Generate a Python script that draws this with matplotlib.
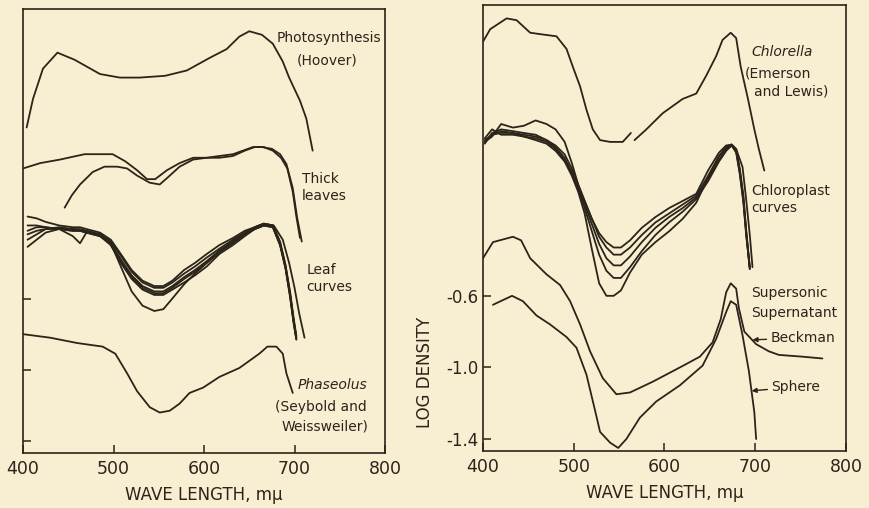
import matplotlib
matplotlib.use('Agg')
import matplotlib.pyplot as plt

paper = '#f8efd3'
ink = '#2b2419'

# left panel: leaf spectra
photo_wl = [404, 411, 422, 438, 457, 485, 507, 529, 557, 581, 606, 625, 639, 650, 664, 676, 687, 694, 706, 713, 720]
photo_v = [0.36, 0.52, 0.69, 0.78, 0.74, 0.66, 0.64, 0.64, 0.65, 0.68, 0.75, 0.80, 0.87, 0.90, 0.88, 0.83, 0.73, 0.64, 0.51, 0.41, 0.23]

thick_a_wl = [400, 419, 441, 468, 485, 499, 513, 526, 537, 546, 559, 573, 588, 603, 617, 632, 643, 654, 664, 675, 684, 691, 698, 703, 708]
thick_a_v = [0.13, 0.16, 0.18, 0.21, 0.21, 0.21, 0.17, 0.12, 0.07, 0.07, 0.12, 0.16, 0.19, 0.19, 0.20, 0.21, 0.23, 0.25, 0.25, 0.24, 0.21, 0.155, 0.02, -0.15, -0.28]
thick_b_wl = [446, 454, 463, 477, 490, 504, 515, 526, 540, 551, 560, 573, 588, 603, 617, 632, 645, 656, 666, 676, 685, 692, 698, 702, 706]
thick_b_v = [-0.09, -0.02, 0.04, 0.11, 0.14, 0.14, 0.13, 0.09, 0.05, 0.04, 0.08, 0.14, 0.18, 0.19, 0.19, 0.20, 0.23, 0.25, 0.25, 0.23, 0.19, 0.13, 0.00, -0.14, -0.26]

leaf_wl = [405, 415, 425, 440, 455, 463, 470, 485, 497, 508, 520, 532, 545, 555, 565, 578, 590, 603, 617, 632, 645, 656, 666, 676, 684, 690, 695, 699, 702]
leaf_wl_deep = [405, 415, 425, 440, 455, 463, 470, 485, 497, 508, 520, 532, 545, 555, 565, 578, 590, 603, 617, 632, 645, 656, 666, 677, 687, 694, 700, 705, 711]
leaf_1 = [-0.14, -0.15, -0.17, -0.19, -0.20, -0.20, -0.21, -0.23, -0.27, -0.35, -0.44, -0.50, -0.53, -0.53, -0.50, -0.44, -0.40, -0.35, -0.30, -0.26, -0.22, -0.20, -0.18, -0.19, -0.28, -0.41, -0.56, -0.71, -0.81]
leaf_2 = [-0.27, -0.24, -0.21, -0.20, -0.21, -0.21, -0.22, -0.24, -0.28, -0.36, -0.45, -0.51, -0.54, -0.54, -0.51, -0.46, -0.42, -0.37, -0.32, -0.27, -0.23, -0.20, -0.18, -0.19, -0.29, -0.42, -0.57, -0.72, -0.82]
leaf_3 = [-0.22, -0.20, -0.20, -0.21, -0.25, -0.29, -0.23, -0.24, -0.29, -0.38, -0.47, -0.53, -0.56, -0.56, -0.53, -0.48, -0.44, -0.39, -0.33, -0.28, -0.24, -0.21, -0.19, -0.19, -0.29, -0.42, -0.58, -0.73, -0.82]
leaf_4 = [-0.31, -0.27, -0.23, -0.21, -0.21, -0.22, -0.22, -0.24, -0.30, -0.39, -0.48, -0.54, -0.57, -0.57, -0.54, -0.49, -0.45, -0.40, -0.34, -0.29, -0.24, -0.21, -0.19, -0.20, -0.30, -0.43, -0.58, -0.73, -0.83]
leaf_5 = [-0.19, -0.19, -0.20, -0.21, -0.22, -0.22, -0.23, -0.25, -0.30, -0.40, -0.49, -0.55, -0.58, -0.58, -0.55, -0.51, -0.47, -0.42, -0.35, -0.30, -0.25, -0.21, -0.19, -0.20, -0.30, -0.43, -0.59, -0.74, -0.83]
leaf_deep = [-0.24, -0.22, -0.21, -0.21, -0.22, -0.22, -0.23, -0.25, -0.29, -0.42, -0.56, -0.64, -0.67, -0.66, -0.60, -0.52, -0.46, -0.40, -0.34, -0.28, -0.23, -0.20, -0.18, -0.19, -0.27, -0.40, -0.54, -0.68, -0.82]

phas_wl = [400, 430, 460, 488, 502, 515, 526, 540, 551, 562, 573, 584, 599, 617, 639, 661, 670, 680, 687, 691, 698]
phas_v = [-0.80, -0.82, -0.85, -0.87, -0.91, -1.02, -1.12, -1.21, -1.24, -1.23, -1.19, -1.13, -1.10, -1.04, -0.99, -0.91, -0.87, -0.87, -0.91, -1.02, -1.13]

# right panel: chlorella, chloroplasts, supernatant
chlor_a_wl = [400, 408, 426, 437, 452, 466, 481, 492, 499, 507, 514, 521, 529, 540, 554, 563]
chlor_a_v = [0.82, 0.89, 0.95, 0.94, 0.87, 0.86, 0.85, 0.78, 0.68, 0.57, 0.44, 0.33, 0.27, 0.26, 0.26, 0.31]
chlor_b_wl = [567, 580, 598, 620, 635, 646, 657, 664, 673, 679, 684, 692, 699, 704, 710]
chlor_b_v = [0.27, 0.33, 0.42, 0.50, 0.53, 0.63, 0.74, 0.83, 0.87, 0.84, 0.68, 0.50, 0.33, 0.22, 0.10]

chl_wl = [402, 410, 420, 433, 445, 458, 470, 480, 490, 498, 505, 512, 520, 528, 536, 544, 552, 562, 575, 590, 605, 620, 635, 648, 660, 668, 674, 679, 683, 687, 690, 694]
chl_wl_b = [402, 410, 420, 433, 445, 458, 470, 480, 490, 498, 505, 512, 520, 528, 536, 544, 552, 562, 575, 590, 605, 620, 635, 648, 660, 668, 674, 679, 686, 690, 694, 697]
chl_1 = [0.26, 0.29, 0.36, 0.34, 0.35, 0.38, 0.36, 0.33, 0.26, 0.14, 0.02, -0.07, -0.17, -0.25, -0.30, -0.33, -0.33, -0.29, -0.22, -0.16, -0.11, -0.07, -0.03, 0.10, 0.20, 0.24, 0.245, 0.22, 0.11, -0.04, -0.23, -0.44]
chl_2 = [0.27, 0.30, 0.31, 0.31, 0.30, 0.29, 0.27, 0.24, 0.19, 0.11, 0.02, -0.07, -0.17, -0.27, -0.33, -0.37, -0.37, -0.33, -0.26, -0.19, -0.14, -0.09, -0.04, 0.07, 0.18, 0.23, 0.245, 0.21, 0.10, -0.06, -0.24, -0.45]
chl_3 = [0.25, 0.31, 0.33, 0.32, 0.31, 0.30, 0.27, 0.23, 0.17, 0.09, 0.00, -0.09, -0.20, -0.31, -0.39, -0.43, -0.43, -0.38, -0.30, -0.22, -0.16, -0.11, -0.05, 0.05, 0.16, 0.22, 0.24, 0.21, 0.09, -0.07, -0.25, -0.45]
chl_4 = [0.28, 0.33, 0.30, 0.30, 0.29, 0.28, 0.26, 0.22, 0.16, 0.08, -0.01, -0.11, -0.24, -0.37, -0.46, -0.50, -0.50, -0.44, -0.35, -0.26, -0.19, -0.13, -0.06, 0.04, 0.15, 0.21, 0.24, 0.20, 0.08, -0.08, -0.26, -0.44]
chl_5 = [0.26, 0.30, 0.32, 0.31, 0.29, 0.27, 0.25, 0.21, 0.15, 0.07, -0.02, -0.14, -0.34, -0.53, -0.60, -0.60, -0.57, -0.47, -0.37, -0.30, -0.24, -0.17, -0.08, 0.06, 0.18, 0.23, 0.245, 0.22, 0.12, -0.06, -0.26, -0.44]

beck_wl = [400, 411, 433, 442, 452, 470, 485, 496, 507, 518, 532, 547, 562, 587, 617, 639, 653, 662, 668, 673, 679, 682, 688, 701, 715, 726, 752, 774]
beck_v = [-0.39, -0.30, -0.27, -0.29, -0.39, -0.48, -0.54, -0.63, -0.76, -0.91, -1.06, -1.15, -1.14, -1.08, -1.00, -0.94, -0.86, -0.73, -0.58, -0.53, -0.56, -0.67, -0.80, -0.87, -0.91, -0.93, -0.94, -0.95]
sph_wl = [411, 432, 444, 459, 474, 492, 503, 514, 523, 529, 540, 549, 558, 573, 591, 617, 642, 657, 668, 673, 679, 686, 693, 699, 701]
sph_v = [-0.65, -0.60, -0.63, -0.71, -0.76, -0.83, -0.89, -1.04, -1.23, -1.36, -1.42, -1.45, -1.40, -1.28, -1.19, -1.10, -0.99, -0.84, -0.69, -0.63, -0.65, -0.82, -1.02, -1.25, -1.40]

x_ticks = [400, 500, 600, 700, 800]
y_ticks = [-0.6, -1.0, -1.4]
y_tick_labels = ['-0.6', '-1.0', '-1.4']

plt.rcParams['font.family'] = ['DejaVu Sans']

fig = plt.figure(figsize=(8.69, 5.08), dpi=100, facecolor=paper)
ax1 = fig.add_axes([0.0265, 0.1083, 0.4166, 0.874])
ax2 = fig.add_axes([0.5558, 0.1122, 0.4177, 0.878])

line_kw = dict(color=ink, lw=1.3, solid_joinstyle='round', solid_capstyle='round')

for ax in (ax1, ax2):
    ax.set_facecolor(paper)
    ax.set_xlim(400, 800)
    ax.set_ylim(-1.467, 1.025)
    for s in ax.spines.values():
        s.set_color(ink)
        s.set_linewidth(1.2)
    ax.set_xticks(x_ticks)
    ax.set_yticks(y_ticks)
    ax.tick_params(direction='in', length=6, width=1.1, color=ink,
                   labelcolor=ink, labelsize=12.5)
    ax.tick_params(axis='x', pad=5)
    ax.set_xlabel('WAVE LENGTH, mμ', fontsize=12, color=ink, labelpad=6)

ax1.set_yticklabels([])
ax2.set_yticklabels(y_tick_labels)
ax2.tick_params(axis='y', pad=3, labelsize=12)

# left panel
ax1.plot(photo_wl, photo_v, **line_kw)
ax1.plot(thick_a_wl, thick_a_v, **line_kw)
ax1.plot(thick_b_wl, thick_b_v, **line_kw)
for lv in (leaf_1, leaf_2, leaf_3, leaf_4, leaf_5):
    ax1.plot(leaf_wl, lv, **line_kw)
ax1.plot(leaf_wl_deep, leaf_deep, **line_kw)
ax1.plot(phas_wl, phas_v, **line_kw)

txt = dict(fontsize=10, color=ink, va='center', ha='left')
ax1.text(680, 0.86, 'Photosynthesis', **txt)
ax1.text(702, 0.737, '(Hoover)', **txt)
ax1.text(708, 0.071, 'Thick', **txt)
ax1.text(708, -0.024, 'leaves', **txt)
ax1.text(713, -0.438, 'Leaf', **txt)
ax1.text(713, -0.533, 'curves', **txt)
ax1.text(703, -1.087, 'Phaseolus', style='italic', **txt)
ax1.text(678, -1.21, '(Seybold and', **txt)
ax1.text(686, -1.316, 'Weissweiler)', **txt)

# right panel
ax2.plot(chlor_a_wl, chlor_a_v, **line_kw)
ax2.plot(chlor_b_wl, chlor_b_v, **line_kw)
for cv in (chl_1, chl_2, chl_3, chl_4):
    ax2.plot(chl_wl, cv, **line_kw)
ax2.plot(chl_wl_b, chl_5, **line_kw)
ax2.plot(beck_wl, beck_v, **line_kw)
ax2.plot(sph_wl, sph_v, **line_kw)

ax2.text(696, 0.76, 'Chlorella', style='italic', **txt)
ax2.text(689, 0.642, '(Emerson', **txt)
ax2.text(699, 0.541, 'and Lewis)', **txt)
ax2.text(696, -0.012, 'Chloroplast', **txt)
ax2.text(696, -0.108, 'curves', **txt)
ax2.text(696, -0.583, 'Supersonic', **txt)
ax2.text(696, -0.695, 'Supernatant', **txt)

arrow = dict(arrowstyle='-|>', color=ink, lw=1.0, mutation_scale=7, shrinkA=1, shrinkB=0)
ax2.annotate('Beckman', xy=(697, -0.846), xytext=(717, -0.835), arrowprops=arrow, **txt)
ax2.annotate('Sphere', xy=(696, -1.131), xytext=(718, -1.109), arrowprops=arrow, **txt)

ax2.set_ylabel('LOG DENSITY', fontsize=12, color=ink)
ax2.yaxis.set_label_coords(-0.135, 0.177)

fig.savefig('out.png', dpi=100, facecolor=paper)
